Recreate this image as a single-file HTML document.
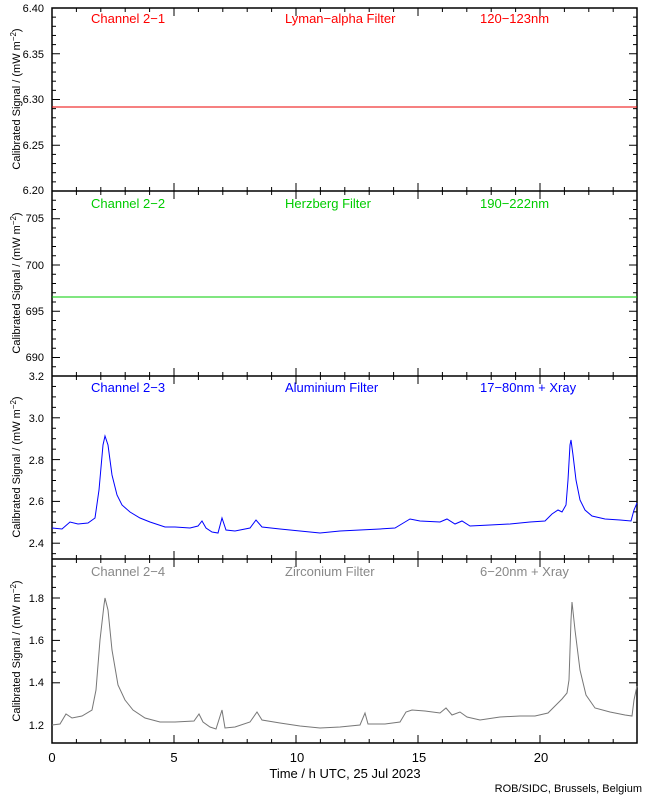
<!DOCTYPE html>
<html><head><style>
body{margin:0;background:#fff;width:650px;height:800px;overflow:hidden}
svg text{font-family:"Liberation Sans",sans-serif}
</style></head><body>
<svg width="650" height="800" xmlns="http://www.w3.org/2000/svg">
<g id="frames" fill="none" stroke="#000" stroke-width="1.5">
<rect x="52" y="8" width="585" height="735"/>
<line x1="52" y1="191" x2="637" y2="191"/>
<line x1="52" y1="376" x2="637" y2="376"/>
<line x1="52" y1="559" x2="637" y2="559"/>
</g>
<g stroke="#000" stroke-width="1">
<script>/*placeholder*/</script>
</g>
<g id="ticks" stroke="#000" stroke-width="1"></g>
<!-- y labels -->
<g font-size="11" text-anchor="end" fill="#000">
<text x="44" y="12">6.40</text><text x="44" y="58">6.35</text><text x="44" y="103">6.30</text><text x="44" y="149">6.25</text><text x="44" y="194">6.20</text>
<text x="44" y="222">705</text><text x="44" y="269">700</text><text x="44" y="315">695</text><text x="44" y="361">690</text>
<text x="44" y="380">3.2</text><text x="44" y="422">3.0</text><text x="44" y="464">2.8</text><text x="44" y="505">2.6</text><text x="44" y="547">2.4</text>
<text x="44" y="602">1.8</text><text x="44" y="644">1.6</text><text x="44" y="686">1.4</text><text x="44" y="729">1.2</text>
</g>
<g font-size="11" fill="#000">
<text transform="translate(20,99) rotate(-90)" text-anchor="middle">Calibrated Signal / (mW m<tspan dy="-4" font-size="8">−2</tspan><tspan dy="4">)</tspan></text>
<text transform="translate(20,283) rotate(-90)" text-anchor="middle">Calibrated Signal / (mW m<tspan dy="-4" font-size="8">−2</tspan><tspan dy="4">)</tspan></text>
<text transform="translate(20,467) rotate(-90)" text-anchor="middle">Calibrated Signal / (mW m<tspan dy="-4" font-size="8">−2</tspan><tspan dy="4">)</tspan></text>
<text transform="translate(20,651) rotate(-90)" text-anchor="middle">Calibrated Signal / (mW m<tspan dy="-4" font-size="8">−2</tspan><tspan dy="4">)</tspan></text>
</g>
<g font-size="13" text-anchor="middle" fill="#000">
<text x="52" y="762">0</text><text x="174" y="762">5</text><text x="297" y="762">10</text><text x="419" y="762">15</text><text x="541" y="762">20</text>
<text x="345" y="778">Time / h UTC, 25 Jul 2023</text>
</g>
<text x="642" y="792" font-size="11" text-anchor="end">ROB/SIDC, Brussels, Belgium</text>
<g font-size="13">
<text x="91" y="23" fill="#f00">Channel 2−1</text><text x="285" y="23" fill="#f00">Lyman−alpha Filter</text><text x="480" y="23" fill="#f00">120−123nm</text>
<text x="91" y="208" fill="#0c0">Channel 2−2</text><text x="285" y="208" fill="#0c0">Herzberg Filter</text><text x="480" y="208" fill="#0c0">190−222nm</text>
<text x="91" y="392" fill="#00f">Channel 2−3</text><text x="285" y="392" fill="#00f">Aluminium Filter</text><text x="480" y="392" fill="#00f">17−80nm + Xray</text>
<text x="91" y="576" fill="#888">Channel 2−4</text><text x="285" y="576" fill="#888">Zirconium Filter</text><text x="480" y="576" fill="#888">6−20nm + Xray</text>
</g>
<line x1="52" y1="107" x2="637" y2="107" stroke="#e00" stroke-width="1"/>
<line x1="52" y1="297" x2="637" y2="297" stroke="#0c0" stroke-width="1"/>
<polyline fill="none" stroke="#00f" stroke-width="1" points="52,528 62,529 70,522 78,524 88,523 95,518 99,490 103,445 105,436 108,445 112,475 117,495 122,505 130,512 140,518 150,522 165,527 175,527 190,528 198,526 202,521 206,528 212,532 218,533 222,518 226,530 235,531 250,528 256,520 262,527 280,529 300,531 320,533 340,531 360,530 380,529 395,528 405,522 410,519 420,521 440,522 447,519 455,524 462,521 470,526 490,525 510,524 530,522 545,521 552,514 558,510 562,512 566,505 568,480 570,445 571,440 573,455 576,480 580,500 585,510 592,516 605,519 620,520 631,521 634,510 637,503"/>
<polyline fill="none" stroke="#777" stroke-width="1" points="52,725 60,724 66,714 72,718 82,716 92,710 96,690 100,640 104,605 105,598 108,610 112,650 118,685 125,700 133,710 145,718 160,722 175,722 194,721 199,714 203,722 210,727 216,729 222,710 225,728 235,727 250,722 257,712 262,720 280,723 300,726 320,728 340,727 360,725 365,713 368,724 385,724 400,722 406,712 412,710 425,711 440,713 446,708 452,715 460,712 467,717 480,720 500,717 520,716 535,716 548,713 556,705 562,699 567,693 569,680 571,620 572,602 575,630 580,670 586,695 595,708 610,712 625,715 632,716 634,700 637,686"/>
</svg>
<script>
const g=document.getElementById('ticks');let s='';
for(let h=1;h<24;h++){const x=52+h*24.4;const L=(h%5==0)?8:4;
for(const [a,b] of [[8,191],[191,376],[376,559],[559,743]]){s+=`<line x1="${x}" y1="${b}" x2="${x}" y2="${b-L}"/><line x1="${x}" y1="${a}" x2="${x}" y2="${a+L}"/>`;}}
function yt(y0,y1,n,maj){for(let i=0;i<=n;i++){const y=y0+(y1-y0)*i/n;const L=(i%maj==0)?8:4;s+=`<line x1="52" y1="${y}" x2="${52+L}" y2="${y}"/><line x1="637" y1="${y}" x2="${637-L}" y2="${y}"/>`;}}
yt(8,191,20,5);
for(let v=688;v<=707;v++){const y=376-(v-688)*9.25;const L=(v%5==0)?8:4;s+=`<line x1="52" y1="${y}" x2="${52+L}" y2="${y}"/><line x1="637" y1="${y}" x2="${637-L}" y2="${y}"/>`;}
for(let k=0;k<=17;k++){const v=3.2-k*0.05;const y=376+(3.2-v)*209;if(y>559)break;const L=(k%4==0)?8:4;s+=`<line x1="52" y1="${y}" x2="${52+L}" y2="${y}"/><line x1="637" y1="${y}" x2="${637-L}" y2="${y}"/>`;}
for(let k=-8;k<=8;k++){const y=598+k*10.6;if(y<559||y>743)continue;const L=(k%4==0)?8:4;s+=`<line x1="52" y1="${y}" x2="${52+L}" y2="${y}"/><line x1="637" y1="${y}" x2="${637-L}" y2="${y}"/>`;}
g.innerHTML=s;
</script>
</body></html>
